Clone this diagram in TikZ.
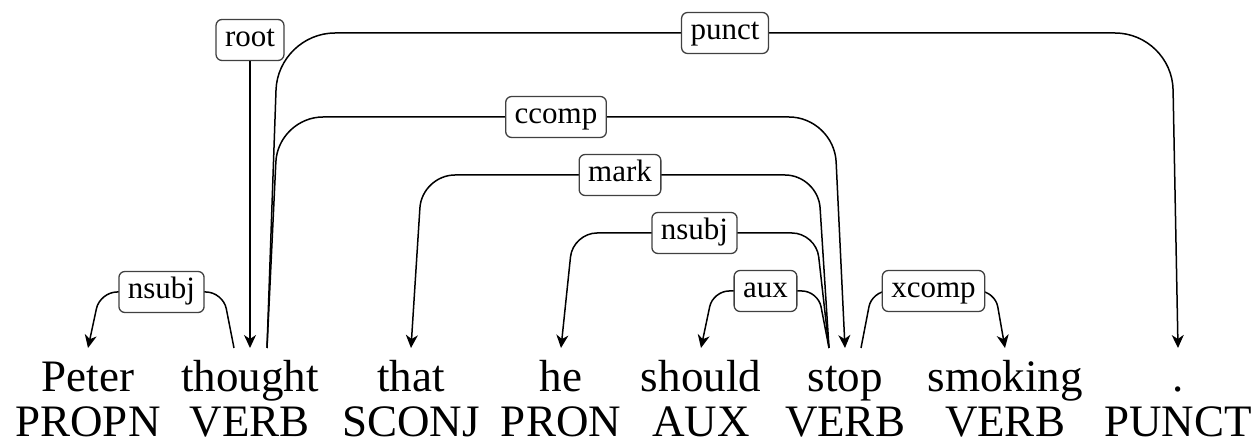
\documentclass[tikz,border=0pt]{standalone}
\usepackage{fontspec}
\setmainfont{Liberation Serif}
\usetikzlibrary{arrows.meta}
\begin{document}
\begin{tikzpicture}[x=1pt,y=-1pt,
  word/.style={anchor=base,inner sep=0pt,font=\fontsize{45}{54}\selectfont},
  lab/.style={draw=black!75,fill=white,line width=1.3pt,rounded corners=6pt,
    font=\fontsize{31}{36}\selectfont,text height=21pt,text depth=7pt,
    inner xsep=9pt,inner ysep=6.5pt},
  edge/.style={draw=black,line width=1.5pt,-{Stealth[length=13pt,width=12pt,inset=4pt]}}]
\useasboundingbox (0,0) rectangle (1259,443);
% words
\node[word] (w1) at (88,392) {Peter};
\node[word] (w2) at (250,392) {thought};
\node[word] (w3) at (411,392) {that};
\node[word] (w4) at (561,392) {he};
\node[word] (w5) at (701,392) {should};
\node[word] (w6) at (845,392) {stop};
\node[word] (w7) at (1005,392) {smoking};
\node[word] (w8) at (1178,392) {.};
\node[word] (p1) at (88,437) {PROPN};
\node[word] (p2) at (250,437) {VERB};
\node[word] (p3) at (411,437) {SCONJ};
\node[word] (p4) at (561,437) {PRON};
\node[word] (p5) at (701,437) {AUX};
\node[word] (p6) at (845,437) {VERB};
\node[word] (p7) at (1005,437) {VERB};
\node[word] (p8) at (1178,437) {PUNCT};
% anchor coordinates
\coordinate (in1) at (88,348);
\coordinate (in2) at (250,348);
\coordinate (in3) at (411,348);
\coordinate (in4) at (561,348);
\coordinate (in5) at (701,348);
\coordinate (in6) at (845,348);
\coordinate (in7) at (1005,348);
\coordinate (in8) at (1178,348);
\coordinate (out2L) at (234,348);
\coordinate (out2R) at (267,348);
\coordinate (out6L) at (829,348);
\coordinate (out6R) at (861,348);
% root
\node[lab] (root) at (250,40) {root};
\draw[edge] (root) -- (in2);
% edges
\draw[edge,rounded corners=17pt] (out2L) -- (223,292) -- node[lab] (l1) {nsubj} (100,292) -- (in1);
\draw[edge,rounded corners=57pt] (out2R) -- (278,33) -- node[lab] (l2) {punct} (1172,33) -- (in8);
\draw[edge,rounded corners=45pt] (out2R) -- (278,117) -- node[lab] (l3) {ccomp} (834,117) -- (in6);
\draw[edge,rounded corners=33pt] (out6L) -- (818,175) -- node[lab] (l4) {mark} (422,175) -- (in3);
\draw[edge,rounded corners=24pt] (out6L) -- (816,233) -- node[lab] (l5) {nsubj} (573,233) -- (in4);
\draw[edge,rounded corners=16pt] (out6L) -- (818,291) -- node[lab] (l6) {aux} (713,291) -- (in5);
\draw[edge,rounded corners=16pt] (out6R) -- (872,291) -- node[lab] (l7) {xcomp} (995,291) -- (in7);
\end{tikzpicture}
\end{document}
